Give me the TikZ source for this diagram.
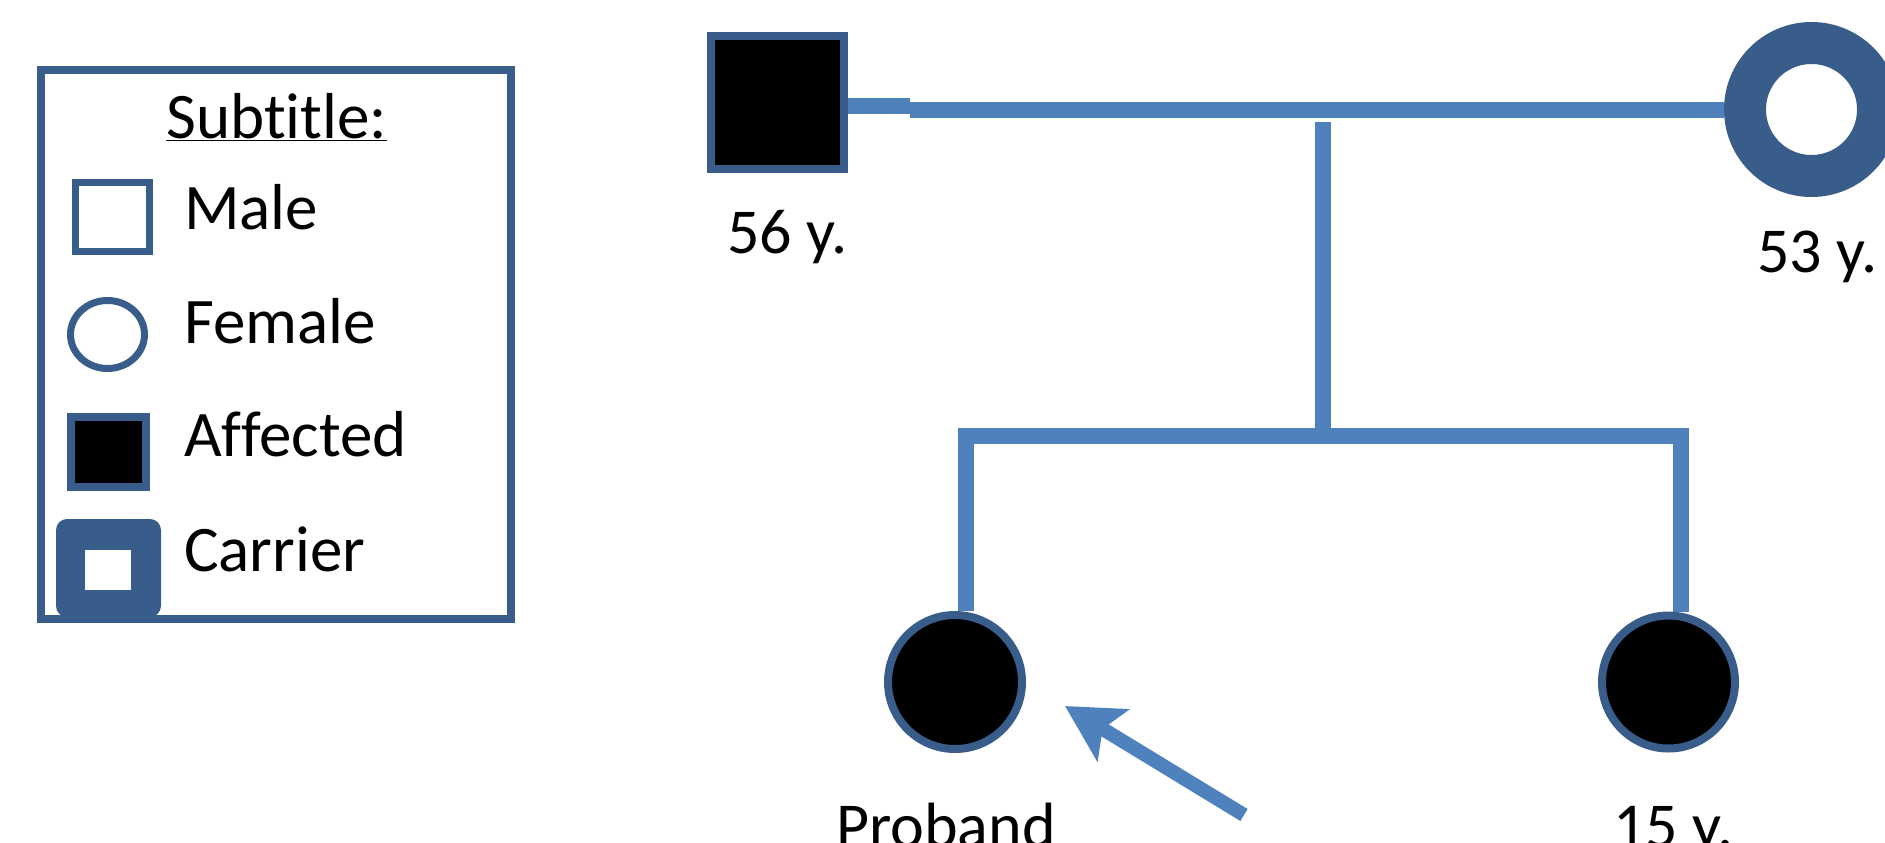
\documentclass[tikz,border=0pt]{standalone}
\usepackage{fontspec}
\setmainfont{Carlito}[Ligatures=NoCommon]
\usetikzlibrary{arrows.meta,backgrounds,shapes.geometric}
\definecolor{linkblue}{HTML}{4F81BD}
\definecolor{edgeblue}{HTML}{385D8A}
\tikzset{
  conn/.style={draw=linkblue, line width=16pt, line join=miter},
  pointer/.style={draw=linkblue, line width=14pt,
    -{Stealth[length=56pt,width=60pt,inset=12pt]}},
  malesym/.style={rectangle, draw=edgeblue, inner sep=0pt},
  femalesym/.style={circle, draw=edgeblue, inner sep=0pt},
  keytext/.style={inner sep=0pt, anchor=base west, font=\fontsize{65}{78}\selectfont},
  agetext/.style={inner sep=0pt, anchor=base west, font=\fontsize{64}{76}\selectfont},
}
\begin{document}
\begin{tikzpicture}[x=1pt,y=-1pt]
\useasboundingbox (0,0) rectangle (1885,843);

% ---- legend ----
\node[rectangle, draw=edgeblue, line width=8pt, minimum width=470pt,
      minimum height=548pt, inner sep=0pt] (legend) at (276,344.5) {};
\node[keytext] (ktitle) at (166,138) {\underline{Subtitle:}};
\node[malesym, line width=7pt, minimum width=74pt, minimum height=69pt] (kmale) at (112,217) {};
\node[keytext] (tmale) at (184,229) {Male};
\node[ellipse, draw=edgeblue, line width=7pt, inner sep=0pt,
      minimum width=74pt, minimum height=68pt] (kfemale) at (107.5,334.5) {};
\node[keytext] (tfemale) at (184,343) {Female};
\node[malesym, line width=8pt, fill=black, minimum width=75pt, minimum height=69.5pt] (kaff) at (108.5,451.75) {};
\node[keytext] (taff) at (184,456) {Affected};
\node[rectangle, fill=edgeblue, rounded corners=11pt, inner sep=0pt,
      minimum width=105pt, minimum height=98pt] (kcarrier) at (108.5,568) {};
\node[rectangle, fill=white, inner sep=0pt, minimum width=46pt, minimum height=40pt] (kcarrierin) at (108,570) {};
\node[keytext] (tcarrier) at (184,571) {Carrier};

% ---- pedigree ----
\node[malesym, line width=8pt, fill=black, minimum size=133pt] (father) at (777.5,102.5) {};
\node[femalesym, line width=42pt, fill=white, minimum size=133pt] (mother) at (1811.5,109.5) {};
\node[femalesym, line width=8pt, fill=black, minimum size=134pt] (proband) at (955,682) {};
\node[femalesym, line width=8pt, fill=black, minimum size=133pt] (sister) at (1668.5,682) {};

\node[agetext] (agefather) at (727,253) {56 y.};
\node[agetext] (agemother) at (1757,272) {53 y.};
\node[agetext] (lproband) at (836,847) {Proband};
\node[agetext] (agesister) at (1613,847) {15 y.};

\coordinate (c1) at (910,105.5);
\coordinate (c2) at (910,109.5);
\coordinate (droptop) at (1323,122);
\coordinate (dropbot) at (1323,436);
\coordinate (sl) at (965.5,436);
\coordinate (sr) at (1681,436);
\coordinate (atip) at (1065,706);
\coordinate (atail) at (1244,815);

\begin{scope}[on background layer]
  \draw[conn] (father.east |- c1) -- (c1);
  \draw[conn] (c2) -- (mother.west |- c2);
  \draw[conn] (droptop) -- (dropbot);
  \draw[conn] (proband.north -| sl) -- (sl) -- (sr) -- (sister.north -| sr);
\end{scope}

\draw[pointer] (atail) -- (atip);
\end{tikzpicture}
\end{document}
